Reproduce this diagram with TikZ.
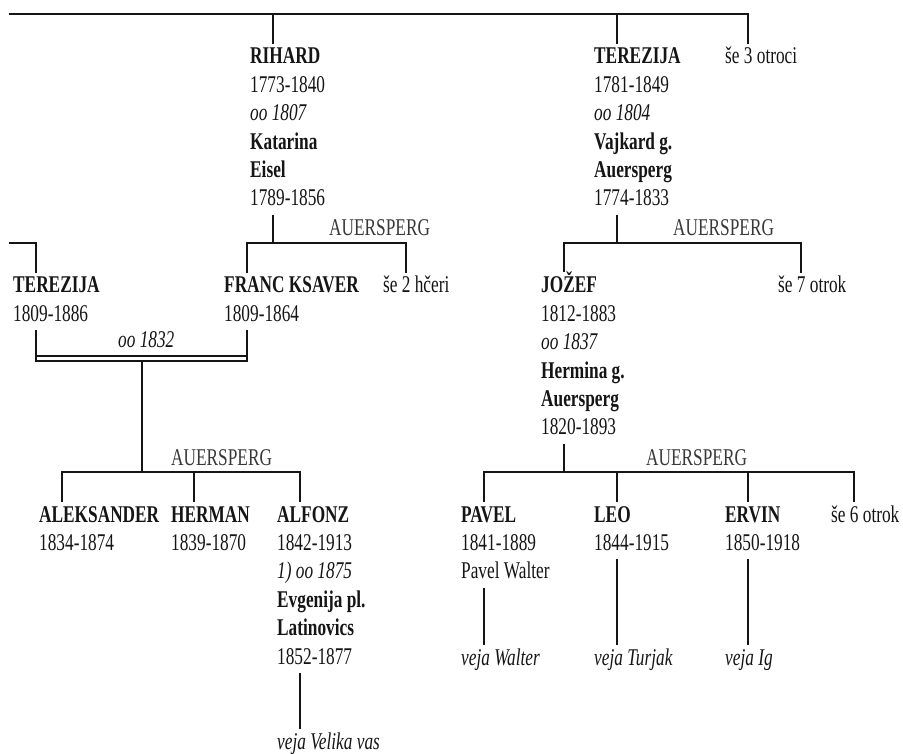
\documentclass[tikz,border=0pt]{standalone}
\usepackage{fontspec}
\setmainfont{Liberation Serif}[FakeStretch=0.72]
\definecolor{ink}{HTML}{151515}
\newcommand\ppl[1]{\begin{tabular}[t]{@{}l@{}}#1\end{tabular}}
\tikzset{
  person/.style={anchor=base west, inner sep=0pt, text=ink, font=\fontsize{24}{28.4}\selectfont},
  lbl/.style={anchor=base west, inner sep=0pt, text=ink!85, font=\fontsize{24}{28.4}\selectfont},
  line/.style={line width=2.5pt, draw=ink},
}
\begin{document}
\begin{tikzpicture}[x=1pt,y=-1pt]
\useasboundingbox (0,0) rectangle (903,754);
\fill[white] (0,0) rectangle (903,754);
% generation 1
\node[person] (rih) at (250,64) {\ppl{\textbf{RIHARD}\\1773-1840\\\textit{oo 1807}\\\textbf{Katarina}\\\textbf{Eisel}\\1789-1856}};
\node[person] (ter1) at (594,64) {\ppl{\textbf{TEREZIJA}\\1781-1849\\\textit{oo 1804}\\\textbf{Vajkard g.}\\\textbf{Auersperg}\\1774-1833}};
\node[person] (se3) at (725,64) {\ppl{še 3 otroci}};
% generation 2
\node[person] (ter2) at (13,293) {\ppl{\textbf{TEREZIJA}\\1809-1886}};
\node[person] (fk) at (224,293) {\ppl{\textbf{FRANC KSAVER}\\1809-1864}};
\node[person] (se2) at (383,293) {\ppl{še 2 hčeri}};
\node[person] (joz) at (541,293) {\ppl{\textbf{JOŽEF}\\1812-1883\\\textit{oo 1837}\\\textbf{Hermina g.}\\\textbf{Auersperg}\\1820-1893}};
\node[person] (se7) at (778,293) {\ppl{še 7 otrok}};
% generation 3
\node[person] (ale) at (39,522) {\ppl{\textbf{ALEKSANDER}\\1834-1874}};
\node[person] (her) at (171,522) {\ppl{\textbf{HERMAN}\\1839-1870}};
\node[person] (alf) at (277,522) {\ppl{\textbf{ALFONZ}\\1842-1913\\\textit{1) oo 1875}\\\textbf{Evgenija pl.}\\\textbf{Latinovics}\\1852-1877}};
\node[person] (pav) at (461,522) {\ppl{\textbf{PAVEL}\\1841-1889\\Pavel Walter}};
\node[person] (leo) at (594,522) {\ppl{\textbf{LEO}\\1844-1915}};
\node[person] (erv) at (725,522) {\ppl{\textbf{ERVIN}\\1850-1918}};
\node[person] (se6) at (831,522) {\ppl{še 6 otrok}};
% lines (veja)
\node[person] (vw) at (461,665) {\ppl{\textit{veja Walter}}};
\node[person] (vt) at (594,665) {\ppl{\textit{veja Turjak}}};
\node[person] (vi) at (725,665) {\ppl{\textit{veja Ig}}};
\node[person] (vv) at (277,749) {\ppl{\textit{veja Velika vas}}};
% labels
\node[lbl] (la1) at (329,236) {AUERSPERG};
\node[lbl] (la2) at (673,236) {AUERSPERG};
\node[lbl] (la3) at (171,465) {AUERSPERG};
\node[lbl] (la4) at (646,465) {AUERSPERG};
\node[lbl,text=ink] (m1) at (118,348) {\textit{oo 1832}};
% connector points
\foreach \n in {rih,ter1,se3,ter2,fk,se2,joz,se7,ale,her,alf,pav,leo,erv,se6,vw,vt,vi,vv}{
  \coordinate (\n T) at ([xshift=23pt]\n.north west);
  \coordinate (\n B) at ([xshift=23pt]\n.south west);
}
\coordinate (topL) at (9,14);
\coordinate (stubL) at (9,243);
\coordinate (bar2) at (0,243);
\coordinate (bar3) at (0,472);
\coordinate (marA) at (0,361);
\coordinate (marB) at (0,355.6);
\coordinate (marD) at (142,361);
% generation 1 bar
\draw[line] (topL) -| (se3T);
\draw[line] (rihT) -- (rihT |- topL);
\draw[line] (ter1T) -- (ter1T |- topL);
% generation 2 bars
\draw[line] (stubL) -| (ter2T);
\draw[line] (rihB) -- (rihB |- bar2);
\draw[line] (fkT) -- (fkT |- bar2) -- (se2T |- bar2) -- (se2T);
\draw[line] (ter1B) -- (ter1B |- bar2);
\draw[line] (jozT) -- (jozT |- bar2) -- (se7T |- bar2) -- (se7T);
% marriage
\draw[line,line width=2.1pt] (ter2B) -- (ter2B |- marA) -- (fkB |- marA) -- (fkB);
\draw[line,line width=2.1pt] (ter2B |- marB) -- (fkB |- marB);
\draw[line] (marD) -- (marD |- bar3);
% generation 3 bars
\draw[line] (aleT) -- (aleT |- bar3) -- (alfT |- bar3) -- (alfT);
\draw[line] (herT) -- (herT |- bar3);
\draw[line] (jozB) -- (jozB |- bar3);
\draw[line] (pavT) -- (pavT |- bar3) -- (se6T |- bar3) -- (se6T);
\draw[line] (leoT) -- (leoT |- bar3);
\draw[line] (ervT) -- (ervT |- bar3);
% descents
\draw[line] (pavB) -- (vwT);
\draw[line] (leoB) -- (vtT);
\draw[line] (ervB) -- (viT);
\draw[line] (alfB) -- (vvT);
\end{tikzpicture}
\end{document}
